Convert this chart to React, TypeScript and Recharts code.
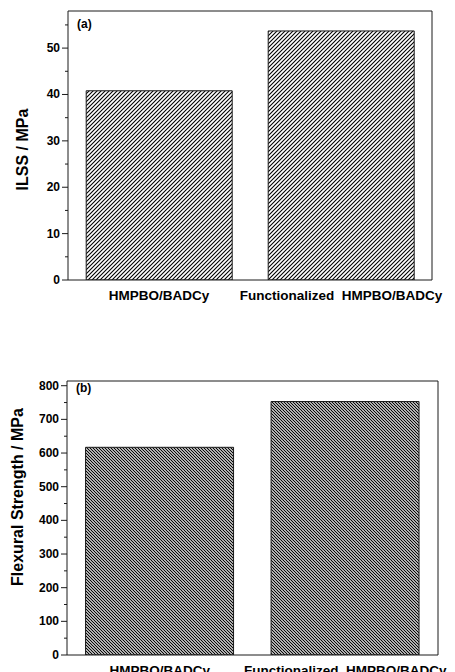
import React from 'react';
import { BarChart, Bar, XAxis, YAxis } from 'recharts';

const categories = ['HMPBO/BADCy', 'Functionalized  HMPBO/BADCy'];
const ilssValues = [40.8, 53.7];
const flexuralValues = [617, 753];
const ilssTicks = [0, 5, 10, 15, 20, 25, 30, 35, 40, 45, 50, 55];
const flexuralTicks = [0, 50, 100, 150, 200, 250, 300, 350, 400, 450, 500, 550, 600, 650, 700, 750, 800];
const topTicks = [1, 2, 3, 4, 5, 6, 7];

const ilssData = categories.map((name, i) => ({ name, value: ilssValues[i] }));
const flexuralData = categories.map((name, i) => ({ name, value: flexuralValues[i] }));

const FONT = '"Liberation Sans", Arial, sans-serif';
const INK = '#1a1a1a';

// left axis: labelled major ticks, short unlabelled minor ticks
const LeftTick: React.FC<any> = ({ x, y, payload, major }) => {
  const isMajor = payload.value % major === 0;
  return (
    <g>
      <line x1={x - (isMajor ? 6 : 3)} x2={x} y1={y} y2={y} stroke={INK} strokeWidth={1} />
      {isMajor && (
        <text x={x - 8} y={y} textAnchor="end" dominantBaseline="central"
          fontFamily={FONT} fontWeight="bold" fontSize={12} fill="#000">
          {payload.value}
        </text>
      )}
    </g>
  );
};

const CatTick: React.FC<any> = ({ x, y, payload }) => (
  <text x={x} y={y} dy="0.71em" textAnchor="middle" fontFamily={FONT} fontWeight="bold"
    fontSize={13.5} fill="#000" style={{ whiteSpace: 'pre' }}>
    {payload.value}
  </text>
);

// rotated axis title plus the panel tag in the plot corner
const yTitle = (value: string, tag: string, cx: number, dy: number, tagDy: number) => (props: any) => {
  const vb = props.viewBox;
  const x = vb.x + cx;
  const y = vb.y + vb.height / 2 + dy;
  return (
    <g>
      <text x={x} y={y} transform={`rotate(-90, ${x}, ${y})`} textAnchor="middle"
        dominantBaseline="central" fontFamily={FONT} fontWeight="bold" fontSize={16} fill="#000">
        {value}
      </text>
      <text x={vb.x + vb.width + 9} y={vb.y + tagDy} fontFamily={FONT} fontWeight="bold"
        fontSize={12} fill="#000">
        {tag}
      </text>
    </g>
  );
};

interface PanelProps {
  data: { name: string; value: number }[];
  domain: [number, number];
  ticks: number[];
  major: number;
  title: string;
  titleX: number;
  titleDy: number;
  tag: string;
  tagDy: number;
  pattern: string;
  width: number;
  height: number;
  margin: { top: number; right: number; left: number; bottom: number };
  yWidth: number;
  xHeight: number;
}

const Panel: React.FC<PanelProps> = (p) => (
  <BarChart width={p.width} height={p.height} data={p.data} margin={p.margin} barCategoryGap="10%">
    <defs>
      <pattern id="hatchA" patternUnits="userSpaceOnUse" width={4} height={4}>
        <path d="M-1,1 L1,-1 M0,4 L4,0 M3,5 L5,3" stroke="#000" strokeWidth={1.1} />
      </pattern>
      <pattern id="hatchB" patternUnits="userSpaceOnUse" width={3} height={3}>
        <path d="M-1,2 L1,4 M0,0 L3,3 M2,-1 L4,1" stroke="#000" strokeWidth={1.2} />
      </pattern>
    </defs>
    <XAxis dataKey="name" height={p.xHeight} axisLine={{ stroke: INK }} tickLine={false}
      tick={<CatTick />} tickMargin={4} interval={0} />
    <XAxis xAxisId="top" orientation="top" type="number" domain={[0, 8]} ticks={topTicks}
      allowDataOverflow height={1} tick={false} tickSize={-3}
      axisLine={{ stroke: INK }} tickLine={{ stroke: INK }} />
    <YAxis domain={p.domain} ticks={p.ticks} interval={0} width={p.yWidth} allowDataOverflow
      axisLine={{ stroke: INK }} tickLine={false} tickSize={0} tickMargin={0}
      tick={<LeftTick major={p.major} />}
      label={{ content: yTitle(p.title, p.tag, p.titleX, p.titleDy, p.tagDy) }} />
    <YAxis yAxisId="right" orientation="right" domain={p.domain} ticks={p.ticks} interval={0}
      allowDataOverflow width={1} tick={false} tickSize={-3}
      axisLine={{ stroke: INK }} tickLine={{ stroke: INK }} />
    <Bar dataKey="value" fill={`url(#${p.pattern})`} stroke={INK} strokeWidth={1}
      isAnimationActive={false} />
  </BarChart>
);

export default function App() {
  return (
    <div style={{ position: 'absolute', left: 0, top: 0, width: 455, height: 672, background: '#fff', overflow: 'hidden' }}>
      <div style={{ position: 'absolute', left: 0, top: 0 }}>
        <Panel data={ilssData} domain={[0, 58]} ticks={ilssTicks} major={10}
          title="ILSS / MPa" titleX={22} titleDy={4} tag="(a)" tagDy={17} pattern="hatchA"
          width={455} height={310} margin={{ top: 10, right: 22, left: 0, bottom: 0 }}
          yWidth={68} xHeight={30} />
      </div>
      <div style={{ position: 'absolute', left: 0, top: 340 }}>
        <Panel data={flexuralData} domain={[0, 814]} ticks={flexuralTicks} major={100}
          title="Flexural Strength / MPa" titleX={17} titleDy={-21} tag="(b)" tagDy={11} pattern="hatchB"
          width={455} height={345} margin={{ top: 40, right: 16, left: 0, bottom: 0 }}
          yWidth={67} xHeight={30} />
      </div>
    </div>
  );
}
